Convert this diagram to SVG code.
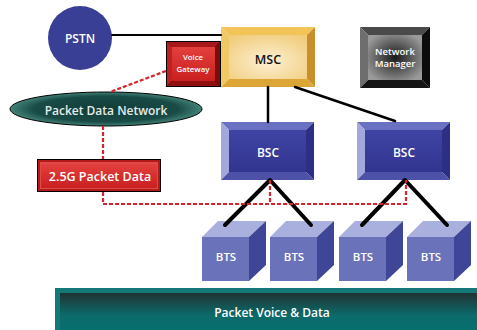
<svg xmlns="http://www.w3.org/2000/svg" width="477" height="330" viewBox="0 0 477 330">
<defs>
<radialGradient id="mscFace" cx="0.5" cy="0.6" r="0.7"><stop offset="0" stop-color="#fcefd2"/><stop offset="1" stop-color="#f1cd7c"/></radialGradient>
<radialGradient id="nmFace" cx="0.5" cy="0.5" r="0.6"><stop offset="0" stop-color="#1a1a1a"/><stop offset="1" stop-color="#9a9a9a"/></radialGradient>
<linearGradient id="bscFace" x1="0" y1="0" x2="0" y2="1"><stop offset="0" stop-color="#3f43a3"/><stop offset="1" stop-color="#32358f"/></linearGradient>
<radialGradient id="ellFill" cx="0.5" cy="0.5" r="0.5"><stop offset="0" stop-color="#123c38"/><stop offset="0.75" stop-color="#194b46"/><stop offset="1" stop-color="#428277"/></radialGradient>
<linearGradient id="barFace" x1="0" y1="0" x2="0" y2="1"><stop offset="0" stop-color="#203333"/><stop offset="0.55" stop-color="#0c6a6a"/><stop offset="1" stop-color="#077070"/></linearGradient>
<linearGradient id="redFace" x1="0" y1="0" x2="0" y2="1"><stop offset="0" stop-color="#e2403e"/><stop offset="1" stop-color="#c9201f"/></linearGradient>
</defs>
<style>
text{font-family:"Open Sans","Noto Sans","Liberation Sans",sans-serif;text-anchor:middle;dominant-baseline:central;font-weight:600}
.w{fill:#ffffff}
.blk{stroke:#000;fill:none;stroke-linecap:round}
.dot{stroke:#d8232a;stroke-width:2.2;fill:none;stroke-dasharray:4 2}
.bscT{fill:#6a70c2}.bscL{fill:#a3a8dc}.bscR{fill:#2d2f85}.bscB{fill:#4d52a8}
.btsTop{fill:#a9b0dd}.btsFront{fill:#6a72b9}.btsSide{fill:#3f4597}
</style>

<g id="bar">
<rect x="55" y="288" width="430" height="45" fill="#127878"/>
<rect x="60" y="293" width="425" height="40" fill="url(#barFace)"/>
<text class="w" x="272" y="312" font-size="12">Packet Voice &amp; Data</text>
</g>

<g id="pstn">
<circle cx="80" cy="38" r="32" fill="#3a3f96"/>
<text class="w" x="80" y="38" font-size="12">PSTN</text>
</g>

<g id="voice-gateway">
<rect x="166" y="41" width="55" height="46" fill="#000"/>
<polygon points="167,42 220,42 215,47 172,47" fill="#a81818"/>
<polygon points="167,42 172,47 172,81 167,86" fill="#c02020"/>
<polygon points="220,42 220,86 215,81 215,47" fill="#7a0c0c"/>
<polygon points="167,86 172,81 215,81 220,86" fill="#900f0f"/>
<rect x="172" y="47" width="43" height="34" fill="url(#redFace)"/>
<text class="w" x="193" y="57" font-size="7.8">Voice</text>
<text class="w" x="193" y="69" font-size="7.8">Gateway</text>
</g>

<g id="msc">
<polygon points="221,27 315,27 307,35 229,35" fill="#f2c458"/>
<polygon points="221,27 229,35 229,79 221,87" fill="#f0c866"/>
<polygon points="315,27 315,87 307,79 307,35" fill="#c88f2b"/>
<polygon points="221,87 229,79 307,79 315,87" fill="#dba636"/>
<rect x="229" y="35" width="78" height="44" fill="url(#mscFace)"/>
<text x="268" y="59" font-size="12.5" font-weight="700" fill="#111">MSC</text>
</g>

<g id="network-manager">
<polygon points="360,27 430,27 422,35 368,35" fill="#4a4a4a"/>
<polygon points="360,27 368,35 368,80 360,88" fill="#6e6e6e"/>
<polygon points="430,27 430,88 422,80 422,35" fill="#0c0c0c"/>
<polygon points="360,88 368,80 422,80 430,88" fill="#151515"/>
<rect x="368" y="35" width="54" height="45" fill="url(#nmFace)"/>
<text class="w" x="395" y="51" font-size="9.5" font-weight="700">Network</text>
<text class="w" x="395" y="63" font-size="9.5" font-weight="700">Manager</text>
</g>

<g id="packet-data-network">
<ellipse cx="106" cy="109" rx="96" ry="17" fill="url(#ellFill)" stroke="#000" stroke-width="1"/>
<text x="106" y="110" font-size="12" fill="#e4ecea">Packet Data Network</text>
</g>

<g id="packet-data-25g">
<rect x="37" y="159" width="124" height="33" fill="#000"/>
<rect x="38" y="160" width="122" height="31" fill="#b21a1a"/>
<rect x="40" y="162" width="118" height="27" fill="#e04a48"/>
<rect x="41" y="164" width="116" height="24" fill="url(#redFace)"/>
<text class="w" x="100" y="176" font-size="12.5">2.5G Packet Data</text>
</g>

<g id="bsc1">
<polygon class="bscT" points="221,122 314,122 306,130 229,130"/>
<polygon class="bscL" points="221,122 229,130 229,172 221,180"/>
<polygon class="bscR" points="314,122 314,180 306,172 306,130"/>
<polygon class="bscB" points="221,180 229,172 306,172 314,180"/>
<rect x="229" y="130" width="77" height="42" fill="url(#bscFace)"/>
<text class="w" x="268" y="152" font-size="12">BSC</text>
</g>

<g id="bsc2">
<polygon class="bscT" points="357,122 450,122 442,130 365,130"/>
<polygon class="bscL" points="357,122 365,130 365,172 357,180"/>
<polygon class="bscR" points="450,122 450,180 442,172 442,130"/>
<polygon class="bscB" points="357,180 365,172 442,172 450,180"/>
<rect x="365" y="130" width="77" height="42" fill="url(#bscFace)"/>
<text class="w" x="404" y="152" font-size="12">BSC</text>
</g>

<g id="bts1">
<polygon class="btsTop" points="202,237 218,221 266,221 249,237"/>
<rect class="btsFront" x="202" y="237" width="47" height="44"/>
<polygon class="btsSide" points="249,237 266,221 266,265 249,281"/>
<text class="w" x="226" y="256" font-size="11.5">BTS</text>
</g>
<g id="bts2">
<polygon class="btsTop" points="270,237 286,221 334,221 317,237"/>
<rect class="btsFront" x="270" y="237" width="47" height="44"/>
<polygon class="btsSide" points="317,237 334,221 334,265 317,281"/>
<text class="w" x="294" y="256" font-size="11.5">BTS</text>
</g>
<g id="bts3">
<polygon class="btsTop" points="339,237 355,221 403,221 386,237"/>
<rect class="btsFront" x="339" y="237" width="47" height="44"/>
<polygon class="btsSide" points="386,237 403,221 403,265 386,281"/>
<text class="w" x="363" y="256" font-size="11.5">BTS</text>
</g>
<g id="bts4">
<polygon class="btsTop" points="407,237 423,221 471,221 454,237"/>
<rect class="btsFront" x="407" y="237" width="47" height="44"/>
<polygon class="btsSide" points="454,237 471,221 471,265 454,281"/>
<text class="w" x="431" y="256" font-size="11.5">BTS</text>
</g>

<g id="connectors">
<path class="blk" d="M112,35 H221" stroke-width="2"/>
<path class="blk" d="M268,87 V122" stroke-width="2.5" stroke-linecap="butt"/>
<path class="blk" d="M295,87 L395,121" stroke-width="2.5" stroke-linecap="butt"/>
<path class="blk" d="M270,180 L225,225 M270,180 L311,225" stroke-width="4"/>
<path class="blk" d="M405,180 L362,225 M405,180 L447,225" stroke-width="4"/>
<path class="dot" d="M166,71 L110,92"/>
<path class="dot" d="M103,126 V159"/>
<path class="dot" d="M103,192 V204 H406 V180"/>
<path class="dot" d="M270,180 V204"/>
</g>
</svg>
